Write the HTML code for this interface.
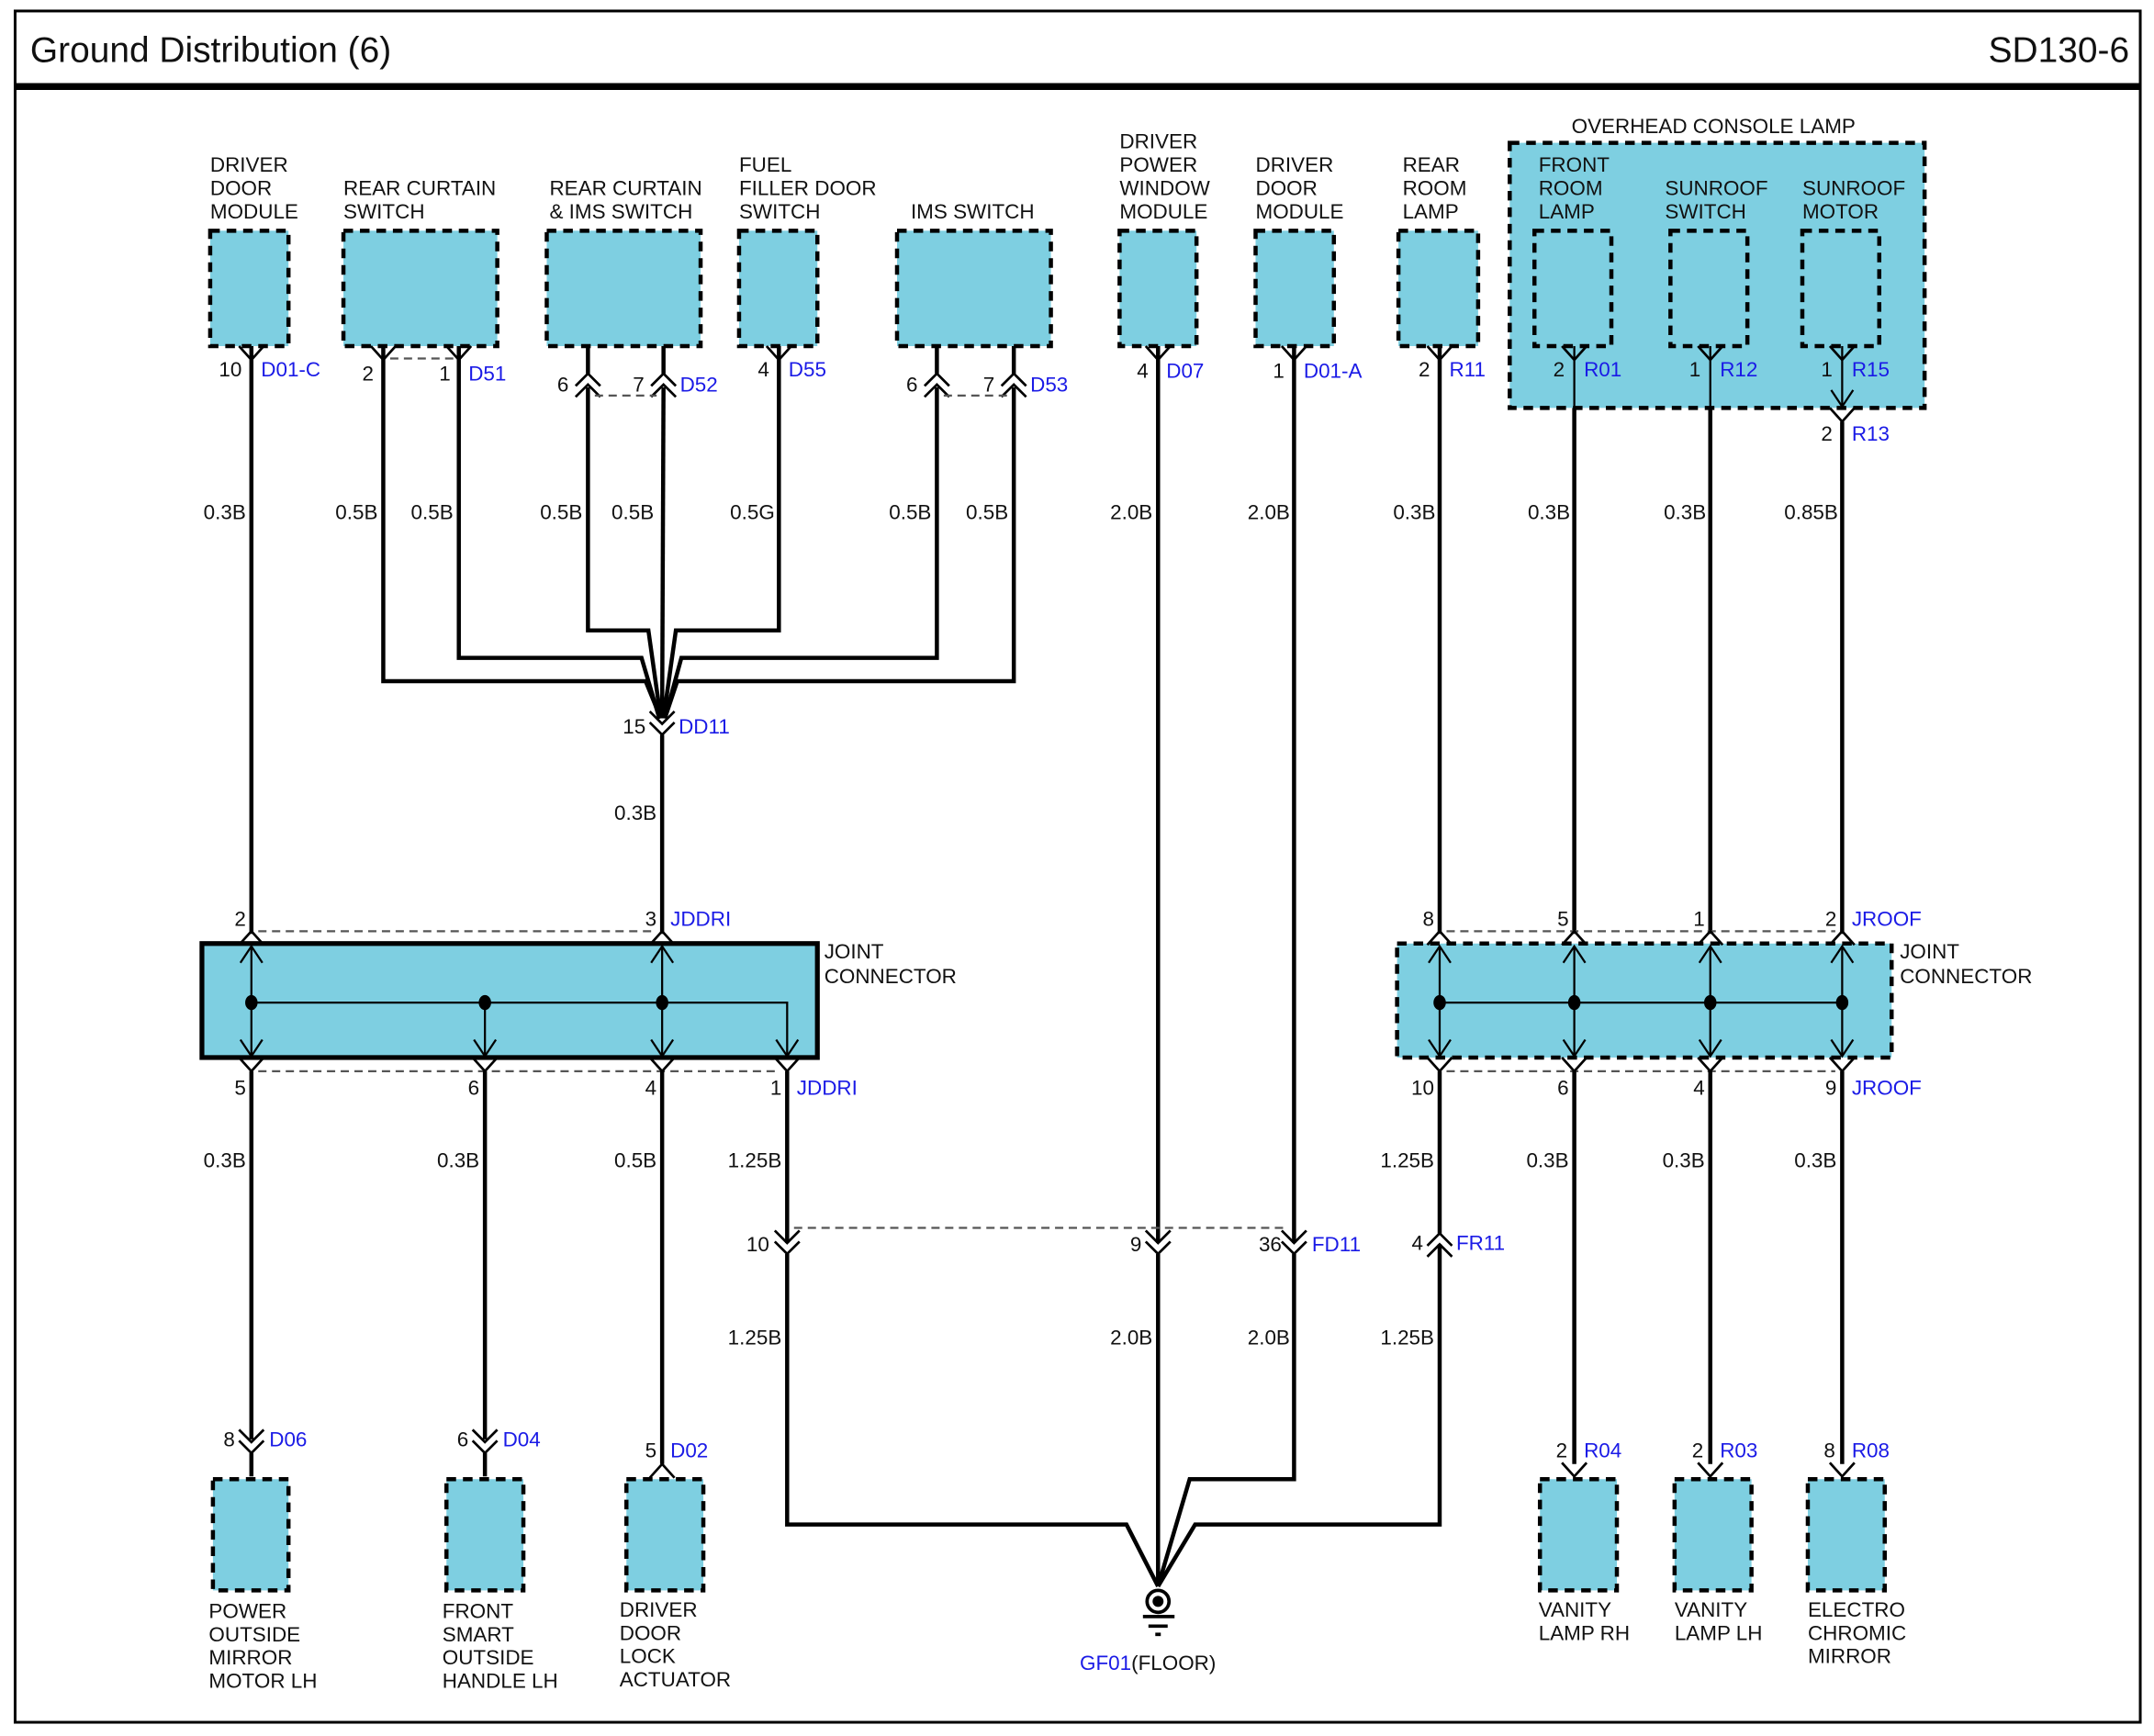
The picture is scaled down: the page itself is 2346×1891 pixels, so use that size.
<!DOCTYPE html>
<html><head><meta charset="utf-8"><style>
html,body{margin:0;padding:0;background:#fff;}
svg{display:block;}
text{font-family:"Liberation Sans",Arial,sans-serif;font-size:15px;fill:#111;}
.b{fill:#1a1ae6;}
.w{stroke:#000;stroke-width:3;fill:none;}
.t{stroke:#000;stroke-width:1.5;fill:none;}
.c{stroke:#000;stroke-width:1.8;fill:none;}
.dl{stroke:#555;stroke-width:1.5;stroke-dasharray:6,4;fill:none;}
.bx{fill:#7ecfe1;stroke:#000;stroke-width:3;stroke-dasharray:7,5;}
.r{text-anchor:end;}
</style></head><body>
<svg width="2346" height="1891" viewBox="0 0 1568 1264" preserveAspectRatio="none" xmlns="http://www.w3.org/2000/svg">
<defs>
<path id="fy" d="M-9,-10 L0,0 L9,-10" class="c"/>
<path id="mc" d="M-9,10 L0,0 L9,10" class="c"/>
<path id="dv" d="M-9,-9 L0,0 L9,-9 M-9,-1 L0,8 L9,-1" class="c"/>
<path id="du" d="M-9,9 L0,0 L9,9 M-9,17 L0,8 L9,17" class="c"/>
<path id="ad" d="M-8,-12 L0,0 L8,-12" class="t"/>
<path id="au" d="M-8,12 L0,0 L8,12" class="t"/>
</defs>
<rect x="0" y="0" width="1568" height="1264" fill="#fff"/>
<rect x="11" y="8" width="1547" height="1246" fill="none" stroke="#000" stroke-width="2"/>
<line x1="11" y1="63" x2="1558" y2="63" stroke="#000" stroke-width="5"/>
<text x="22" y="45" style="font-size:26px">Ground Distribution (6)</text>
<text x="1550" y="45" class="r" style="font-size:26px">SD130-6</text>

<rect class="bx" x="153" y="168" width="57" height="84"/>
<rect class="bx" x="250" y="168" width="112" height="84"/>
<rect class="bx" x="398" y="168" width="112" height="84"/>
<rect class="bx" x="538" y="168" width="57" height="84"/>
<rect class="bx" x="653" y="168" width="112" height="84"/>
<rect class="bx" x="815" y="168" width="56" height="84"/>
<rect class="bx" x="914" y="168" width="57" height="84"/>
<rect class="bx" x="1018" y="168" width="58" height="84"/>
<rect class="bx" x="1099" y="104" width="302" height="193"/>
<rect class="bx" x="1117" y="168" width="56" height="84"/>
<rect class="bx" x="1216" y="168" width="56" height="84"/>
<rect class="bx" x="1312" y="168" width="56" height="84"/>

<text x="153" y="125">DRIVER</text><text x="153" y="142">DOOR</text><text x="153" y="159">MODULE</text>
<text x="250" y="142">REAR CURTAIN</text><text x="250" y="159">SWITCH</text>
<text x="400" y="142">REAR CURTAIN</text><text x="400" y="159">&amp; IMS SWITCH</text>
<text x="538" y="125">FUEL</text><text x="538" y="142">FILLER DOOR</text><text x="538" y="159">SWITCH</text>
<text x="663" y="159">IMS SWITCH</text>
<text x="815" y="108">DRIVER</text><text x="815" y="125">POWER</text><text x="815" y="142">WINDOW</text><text x="815" y="159">MODULE</text>
<text x="914" y="125">DRIVER</text><text x="914" y="142">DOOR</text><text x="914" y="159">MODULE</text>
<text x="1021" y="125">REAR</text><text x="1021" y="142">ROOM</text><text x="1021" y="159">LAMP</text>
<text x="1144" y="97">OVERHEAD CONSOLE LAMP</text>
<text x="1120" y="125">FRONT</text><text x="1120" y="142">ROOM</text><text x="1120" y="159">LAMP</text>
<text x="1212" y="142">SUNROOF</text><text x="1212" y="159">SWITCH</text>
<text x="1312" y="142">SUNROOF</text><text x="1312" y="159">MOTOR</text>

<use href="#fy" x="183" y="262"/><use href="#fy" x="279" y="262"/><use href="#fy" x="334" y="262"/>
<use href="#fy" x="567" y="262"/><use href="#fy" x="843" y="262"/><use href="#fy" x="942" y="262"/>
<use href="#fy" x="1048" y="262"/><use href="#fy" x="1146" y="262"/><use href="#fy" x="1245" y="262"/><use href="#fy" x="1341" y="262"/>
<use href="#fy" x="1341" y="307"/>
<line class="dl" x1="284" y1="261" x2="330" y2="261"/>
<line class="w" x1="428" y1="252" x2="428" y2="272"/><line class="w" x1="483" y1="252" x2="483" y2="272"/>
<use href="#du" x="428" y="272"/><use href="#du" x="483" y="272"/>
<line class="dl" x1="433" y1="288" x2="478" y2="288"/>
<line class="w" x1="682" y1="252" x2="682" y2="272"/><line class="w" x1="738" y1="252" x2="738" y2="272"/>
<use href="#du" x="682" y="272"/><use href="#du" x="738" y="272"/>
<line class="dl" x1="687" y1="288" x2="733" y2="288"/>

<text x="176" y="274" class="r">10</text><text x="190" y="274" class="b">D01-C</text>
<text x="272" y="277" class="r">2</text><text x="328" y="277" class="r">1</text><text x="341" y="277" class="b">D51</text>
<text x="414" y="285" class="r">6</text><text x="469" y="285" class="r">7</text><text x="495" y="285" class="b">D52</text>
<text x="560" y="274" class="r">4</text><text x="574" y="274" class="b">D55</text>
<text x="668" y="285" class="r">6</text><text x="724" y="285" class="r">7</text><text x="750" y="285" class="b">D53</text>
<text x="836" y="275" class="r">4</text><text x="849" y="275" class="b">D07</text>
<text x="935" y="275" class="r">1</text><text x="949" y="275" class="b">D01-A</text>
<text x="1041" y="274" class="r">2</text><text x="1055" y="274" class="b">R11</text>
<text x="1139" y="274" class="r">2</text><text x="1153" y="274" class="b">R01</text>
<text x="1238" y="274" class="r">1</text><text x="1252" y="274" class="b">R12</text>
<text x="1334" y="274" class="r">1</text><text x="1348" y="274" class="b">R15</text>
<text x="1334" y="321" class="r">2</text><text x="1348" y="321" class="b">R13</text>

<line class="w" x1="183" y1="252" x2="183" y2="680"/>
<polyline class="w" points="279,252 279,496 470,496 481,523"/>
<polyline class="w" points="334,252 334,479 467,479 480,523"/>
<polyline class="w" points="428,282 428,459 472,459 481,523"/>
<line class="w" x1="483" y1="282" x2="482" y2="523"/>
<polyline class="w" points="567,252 567,459 492,459 483,523"/>
<polyline class="w" points="682,282 682,479 496,479 484,523"/>
<polyline class="w" points="738,282 738,496 493,496 484,523"/>
<use href="#dv" x="482" y="527"/>
<line class="w" x1="482" y1="535" x2="482" y2="680"/>
<text x="470" y="534" class="r">15</text><text x="494" y="534" class="b">DD11</text>
<text x="478" y="597" class="r">0.3B</text>

<line class="t" x1="1146" y1="252" x2="1146" y2="297"/><line class="w" x1="1146" y1="297" x2="1146" y2="680"/>
<line class="t" x1="1245" y1="252" x2="1245" y2="297"/><line class="w" x1="1245" y1="297" x2="1245" y2="680"/>
<line class="t" x1="1341" y1="252" x2="1341" y2="295"/><use href="#ad" x="1341" y="296"/>
<line class="w" x1="1341" y1="307" x2="1341" y2="680"/>
<line class="w" x1="843" y1="252" x2="843" y2="905"/>
<line class="w" x1="942" y1="252" x2="942" y2="905"/>
<line class="w" x1="1048" y1="252" x2="1048" y2="680"/>

<text x="179" y="378" class="r">0.3B</text><text x="275" y="378" class="r">0.5B</text><text x="330" y="378" class="r">0.5B</text>
<text x="424" y="378" class="r">0.5B</text><text x="476" y="378" class="r">0.5B</text><text x="564" y="378" class="r">0.5G</text>
<text x="678" y="378" class="r">0.5B</text><text x="734" y="378" class="r">0.5B</text><text x="839" y="378" class="r">2.0B</text>
<text x="939" y="378" class="r">2.0B</text><text x="1045" y="378" class="r">0.3B</text><text x="1143" y="378" class="r">0.3B</text>
<text x="1242" y="378" class="r">0.3B</text><text x="1338" y="378" class="r">0.85B</text>

<rect x="147" y="687" width="448" height="83" fill="#7ecfe1" stroke="#000" stroke-width="3.5"/>
<line class="dl" x1="188" y1="678" x2="477" y2="678"/>
<line class="dl" x1="188" y1="780" x2="568" y2="780"/>
<use href="#mc" x="183" y="678"/><use href="#mc" x="482" y="678"/>
<use href="#fy" x="183" y="780"/><use href="#fy" x="353" y="780"/><use href="#fy" x="482" y="780"/><use href="#fy" x="573" y="780"/>
<line class="t" x1="183" y1="689" x2="183" y2="769"/><use href="#au" x="183" y="689"/><use href="#ad" x="183" y="769"/>
<line class="t" x1="482" y1="689" x2="482" y2="769"/><use href="#au" x="482" y="689"/><use href="#ad" x="482" y="769"/>
<polyline class="t" points="183,730 573,730 573,769"/><use href="#ad" x="573" y="769"/>
<line class="t" x1="353" y1="730" x2="353" y2="769"/><use href="#ad" x="353" y="769"/>
<ellipse cx="183" cy="730" rx="4.5" ry="5.5"/><ellipse cx="353" cy="730" rx="4.5" ry="5.5"/><ellipse cx="482" cy="730" rx="4.5" ry="5.5"/>
<text x="179" y="674" class="r">2</text><text x="478" y="674" class="r">3</text><text x="488" y="674" class="b">JDDRI</text>
<text x="600" y="698">JOINT</text><text x="600" y="716">CONNECTOR</text>
<text x="179" y="797" class="r">5</text><text x="349" y="797" class="r">6</text><text x="478" y="797" class="r">4</text><text x="569" y="797" class="r">1</text><text x="580" y="797" class="b">JDDRI</text>

<rect class="bx" x="1017" y="687" width="360" height="83"/>
<line class="dl" x1="1053" y1="678" x2="1336" y2="678"/>
<line class="dl" x1="1053" y1="780" x2="1336" y2="780"/>
<use href="#mc" x="1048" y="678"/><use href="#mc" x="1146" y="678"/><use href="#mc" x="1245" y="678"/><use href="#mc" x="1341" y="678"/>
<use href="#fy" x="1048" y="780"/><use href="#fy" x="1146" y="780"/><use href="#fy" x="1245" y="780"/><use href="#fy" x="1341" y="780"/>
<line class="t" x1="1048" y1="689" x2="1048" y2="769"/><use href="#au" x="1048" y="689"/><use href="#ad" x="1048" y="769"/>
<line class="t" x1="1146" y1="689" x2="1146" y2="769"/><use href="#au" x="1146" y="689"/><use href="#ad" x="1146" y="769"/>
<line class="t" x1="1245" y1="689" x2="1245" y2="769"/><use href="#au" x="1245" y="689"/><use href="#ad" x="1245" y="769"/>
<line class="t" x1="1341" y1="689" x2="1341" y2="769"/><use href="#au" x="1341" y="689"/><use href="#ad" x="1341" y="769"/>
<line class="t" x1="1048" y1="730" x2="1341" y2="730"/>
<ellipse cx="1048" cy="730" rx="4.5" ry="5.5"/><ellipse cx="1146" cy="730" rx="4.5" ry="5.5"/><ellipse cx="1245" cy="730" rx="4.5" ry="5.5"/><ellipse cx="1341" cy="730" rx="4.5" ry="5.5"/>
<text x="1044" y="674" class="r">8</text><text x="1142" y="674" class="r">5</text><text x="1241" y="674" class="r">1</text><text x="1337" y="674" class="r">2</text><text x="1348" y="674" class="b">JROOF</text>
<text x="1383" y="698">JOINT</text><text x="1383" y="716">CONNECTOR</text>
<text x="1044" y="797" class="r">10</text><text x="1142" y="797" class="r">6</text><text x="1241" y="797" class="r">4</text><text x="1337" y="797" class="r">9</text><text x="1348" y="797" class="b">JROOF</text>

<line class="w" x1="183" y1="780" x2="183" y2="1048"/><use href="#dv" x="183" y="1050"/><line class="w" x1="183" y1="1058" x2="183" y2="1075"/>
<line class="w" x1="353" y1="780" x2="353" y2="1048"/><use href="#dv" x="353" y="1050"/><line class="w" x1="353" y1="1058" x2="353" y2="1075"/>
<line class="w" x1="482" y1="780" x2="482" y2="1066"/><use href="#mc" x="482" y="1066"/>
<line class="w" x1="573" y1="780" x2="573" y2="905"/><use href="#dv" x="573" y="905"/>
<polyline class="w" points="573,913 573,1110 820,1110 843,1155"/>
<use href="#dv" x="843" y="905"/><line class="w" x1="843" y1="913" x2="843" y2="1155"/>
<use href="#dv" x="942" y="905"/><polyline class="w" points="942,913 942,1077 866,1077 843,1155"/>
<line class="w" x1="1048" y1="780" x2="1048" y2="898"/><use href="#du" x="1048" y="898"/>
<polyline class="w" points="1048,906 1048,1110 870,1110 843,1155"/>
<line class="dl" x1="578" y1="894" x2="937" y2="894"/>
<text x="560" y="911" class="r">10</text><text x="831" y="911" class="r">9</text><text x="933" y="911" class="r">36</text><text x="955" y="911" class="b">FD11</text>
<text x="1036" y="910" class="r">4</text><text x="1060" y="910" class="b">FR11</text>

<line class="w" x1="1146" y1="780" x2="1146" y2="1066"/><use href="#fy" x="1146" y="1075"/>
<line class="w" x1="1245" y1="780" x2="1245" y2="1066"/><use href="#fy" x="1245" y="1075"/>
<line class="w" x1="1341" y1="780" x2="1341" y2="1066"/><use href="#fy" x="1341" y="1075"/>

<circle cx="843" cy="1166" r="8" fill="#fff" stroke="#000" stroke-width="2.5"/>
<circle cx="843" cy="1166" r="4" fill="#000"/>
<line x1="832" y1="1177" x2="855" y2="1177" stroke="#000" stroke-width="2.5"/>
<line x1="836" y1="1184" x2="850" y2="1184" stroke="#000" stroke-width="2.5"/>
<line x1="841" y1="1190" x2="845" y2="1190" stroke="#000" stroke-width="2.5"/>
<text x="786" y="1216"><tspan class="b">GF01</tspan>(FLOOR)</text>

<text x="179" y="850" class="r">0.3B</text><text x="349" y="850" class="r">0.3B</text><text x="478" y="850" class="r">0.5B</text>
<text x="569" y="850" class="r">1.25B</text><text x="1044" y="850" class="r">1.25B</text><text x="1142" y="850" class="r">0.3B</text>
<text x="1241" y="850" class="r">0.3B</text><text x="1337" y="850" class="r">0.3B</text>
<text x="569" y="979" class="r">1.25B</text><text x="839" y="979" class="r">2.0B</text><text x="939" y="979" class="r">2.0B</text><text x="1044" y="979" class="r">1.25B</text>

<rect class="bx" x="155" y="1077" width="55" height="81"/>
<rect class="bx" x="325" y="1077" width="56" height="81"/>
<rect class="bx" x="456" y="1077" width="56" height="81"/>
<rect class="bx" x="1121" y="1077" width="56" height="81"/>
<rect class="bx" x="1219" y="1077" width="56" height="81"/>
<rect class="bx" x="1316" y="1077" width="56" height="81"/>

<text x="171" y="1053" class="r">8</text><text x="196" y="1053" class="b">D06</text>
<text x="341" y="1053" class="r">6</text><text x="366" y="1053" class="b">D04</text>
<text x="478" y="1061" class="r">5</text><text x="488" y="1061" class="b">D02</text>
<text x="1141" y="1061" class="r">2</text><text x="1153" y="1061" class="b">R04</text>
<text x="1240" y="1061" class="r">2</text><text x="1252" y="1061" class="b">R03</text>
<text x="1336" y="1061" class="r">8</text><text x="1348" y="1061" class="b">R08</text>

<text x="152" y="1178">POWER</text><text x="152" y="1195">OUTSIDE</text><text x="152" y="1212">MIRROR</text><text x="152" y="1229">MOTOR LH</text>
<text x="322" y="1178">FRONT</text><text x="322" y="1195">SMART</text><text x="322" y="1212">OUTSIDE</text><text x="322" y="1229">HANDLE LH</text>
<text x="451" y="1177">DRIVER</text><text x="451" y="1194">DOOR</text><text x="451" y="1211">LOCK</text><text x="451" y="1228">ACTUATOR</text>
<text x="1120" y="1177">VANITY</text><text x="1120" y="1194">LAMP RH</text>
<text x="1219" y="1177">VANITY</text><text x="1219" y="1194">LAMP LH</text>
<text x="1316" y="1177">ELECTRO</text><text x="1316" y="1194">CHROMIC</text><text x="1316" y="1211">MIRROR</text>
</svg>
</body></html>
